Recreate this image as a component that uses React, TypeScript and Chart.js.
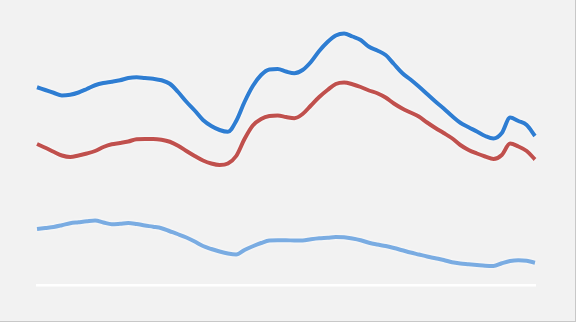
import React, { useEffect, useRef } from "react";
import { Chart, registerables } from "chart.js";

Chart.register(...registerables);

const categories: string[] = Array.from({ length: 61 }, (_, i) => String(i + 1));

const seriesTotal: number[] = [
  79.1, 78.0, 76.9, 75.8, 76.1, 77.0, 78.4, 79.9, 80.8, 81.3,
  81.9, 82.8, 83.1, 82.8, 82.5, 81.9, 80.5, 77.2, 73.3, 69.8,
  66.0, 63.6, 62.0, 61.3, 65.6, 73.2, 79.6, 84.0, 86.2, 86.4,
  85.4, 84.7, 86.0, 89.2, 93.6, 97.2, 99.8, 100.6, 99.4, 98.0,
  95.3, 93.8, 92.0, 88.4, 84.8, 82.2, 79.4, 76.4, 73.4, 70.6,
  67.6, 64.9, 63.1, 61.4, 59.6, 58.6, 60.8, 67.0, 65.6, 64.0,
  59.6,
];

const seriesRed: number[] = [
  56.4, 54.9, 53.3, 51.8, 51.2, 51.8, 52.6, 53.6, 55.2, 56.3,
  56.8, 57.4, 58.3, 58.4, 58.4, 58.1, 57.3, 55.7, 53.6, 51.6,
  49.8, 48.6, 48.0, 48.6, 51.6, 58.4, 63.8, 66.4, 67.6, 67.8,
  67.2, 66.7, 68.4, 71.8, 75.2, 78.0, 80.4, 81.0, 80.3, 79.2,
  77.8, 76.7, 75.0, 72.6, 70.6, 69.0, 67.4, 65.0, 62.8, 60.8,
  58.7, 56.0, 54.0, 52.6, 51.4, 50.4, 52.0, 56.6, 55.4, 53.6,
  50.2,
];

const seriesLight: number[] = [
  22.4, 22.8, 23.2, 23.9, 24.7, 25.1, 25.5, 25.8, 25.0, 24.3,
  24.5, 24.8, 24.4, 23.8, 23.3, 22.7, 21.5, 20.3, 19.0, 17.4,
  15.6, 14.4, 13.4, 12.6, 12.2, 14.0, 15.5, 16.8, 17.8, 17.9,
  17.9, 17.8, 17.8, 18.3, 18.7, 18.9, 19.2, 19.1, 18.6, 17.9,
  16.9, 16.2, 15.6, 14.8, 13.9, 13.0, 12.2, 11.4, 10.7, 10.0,
  9.1, 8.6, 8.3, 8.0, 7.7, 7.6, 8.7, 9.6, 9.9, 9.7,
  8.9,
];

const Y_MIN = 0;
const Y_MAX = 106;

const glowPlugin = {
  id: "glow",
  beforeDatasetsDraw(chart: any) {
    const ctx = chart.ctx;
    ctx.save();
    ctx.shadowColor = "rgba(255,255,255,0.95)";
    ctx.shadowBlur = 3;
  },
  afterDatasetsDraw(chart: any) {
    chart.ctx.restore();
  },
};

export default function App() {
  const ref = useRef<HTMLCanvasElement | null>(null);

  useEffect(() => {
    if (!ref.current) return;
    const common = {
      borderWidth: 4,
      pointRadius: 0,
      cubicInterpolationMode: "monotone" as const,
      fill: false,
    };
    const chart = new Chart(ref.current, {
      type: "line",
      data: {
        labels: categories,
        datasets: [
          { ...common, data: seriesTotal, borderColor: "#2e7dd2" },
          { ...common, data: seriesRed, borderColor: "#c0504d" },
          { ...common, data: seriesLight, borderColor: "#7aace2" },
        ],
      },
      options: {
        animation: false,
        responsive: false,
        maintainAspectRatio: false,
        layout: { padding: { left: 37, right: 40, top: 20, bottom: 36 } },
        plugins: {
          legend: { display: false },
          tooltip: { enabled: false },
        },
        scales: {
          x: {
            display: true,
            offset: false,
            grid: { display: false, drawTicks: false, tickLength: 0 },
            ticks: { display: false },
            border: { display: true, color: "#ffffff", width: 2.5 },
          },
          y: {
            display: false,
            min: Y_MIN,
            max: Y_MAX,
          },
        },
      },
      plugins: [glowPlugin],
    });
    return () => chart.destroy();
  }, []);

  return (
    <div
      style={{
        position: "fixed",
        left: 0,
        top: 0,
        width: 576,
        height: 322,
        boxSizing: "border-box",
        background: "#f2f2f2",
        borderRight: "1px solid #c8c8c8",
        borderBottom: "1px solid #c8c8c8",
      }}
    >
      <canvas ref={ref} width={575} height={321} style={{ display: "block" }} />
    </div>
  );
}
